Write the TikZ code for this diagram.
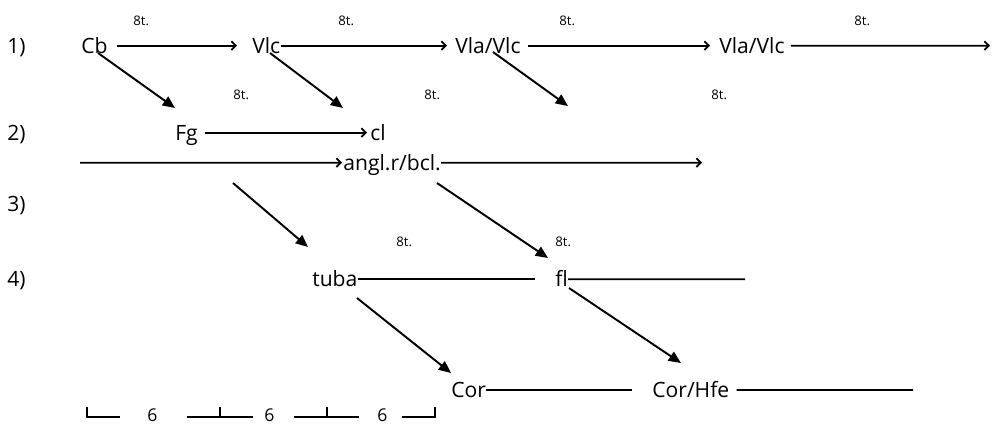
\documentclass[tikz,border=0pt]{standalone}
\usepackage{fontspec}
\setmainfont{Open Sans}
\usetikzlibrary{arrows.meta}

\tikzset{
  instr/.style={inner sep=0pt, anchor=base west, font=\fontsize{12pt}{14pt}\selectfont, text height=8.3pt, text depth=0pt},
  oct/.style={inner sep=0pt, anchor=base west, font=\fontsize{7.5pt}{9pt}\selectfont},
  unit/.style={inner sep=0pt, anchor=base west, font=\fontsize{10pt}{12pt}\selectfont},
  tie/.style={line width=1pt},
  run/.style={tie, -{Straight Barb[length=2.5pt,width=5pt]}},
  lead/.style={line width=1.1pt, -{Triangle[length=7pt,width=6pt]}},
}

\begin{document}
\begin{tikzpicture}[x=0.02cm, y=-0.02cm]
  \useasboundingbox (0,0) rectangle (996,424);
  % row labels
  \node[instr] (one) at (7,53) {1)};
  \node[instr] (two) at (7,140) {2)};
  \node[instr] (three) at (7,211) {3)};
  \node[instr] (four) at (7,286.5) {4)};
  % instruments
  \node[instr] (Cb) at (81,53) {Cb};
  \node[instr] (Vlc) at (252,53) {Vlc};
  \node[instr] (VlaA) at (455,53) {Vla/Vlc};
  \node[instr] (VlaB) at (719,53) {Vla/Vlc};
  \node[instr] (Fg) at (175,140) {Fg};
  \node[instr] (cl) at (370,140) {cl};
  \node[instr] (angl) at (343,170) {angl.r/bcl.};
  \node[instr] (tuba) at (312,286.5) {tuba};
  \node[instr] (fl) at (555,286.5) {fl};
  \node[instr] (Cor) at (451,397.3) {Cor};
  \node[instr] (CorHfe) at (652,397.3) {Cor/Hfe};
  % octave marks
  \node[oct] (oA) at (133,25) {8t.};
  \node[oct] (oB) at (338,25) {8t.};
  \node[oct] (oC) at (559,25) {8t.};
  \node[oct] (oD) at (854,25) {8t.};
  \node[oct] (oE) at (233,99) {8t.};
  \node[oct] (oF) at (424,99) {8t.};
  \node[oct] (oG) at (711,99) {8t.};
  \node[oct] (oH) at (396,246) {8t.};
  \node[oct] (oI) at (555,246) {8t.};
  % free ends
  \coordinate (endA) at (990,45.7);
  \coordinate (angStart) at (80,162.7);
  \coordinate (angEnd) at (702,162.7);
  \coordinate (flEnd) at (745,279.2);
  \coordinate (hfeEnd) at (913,390);
  \coordinate (vlaTip) at (568,106);
  \coordinate (s3) at (233,183);
  % horizontal runs
  \draw[run, shorten <=0.18cm, shorten >=0.30cm] (Cb) -- (Vlc);
  \draw[run, shorten >=0.16cm] (Vlc) -- (VlaA);
  \draw[run, shorten <=0.14cm, shorten >=0.18cm] (VlaA) -- (VlaB);
  \draw[run, shorten <=0.12cm] (VlaB) -- (endA);
  \draw[run, shorten <=0.14cm, shorten >=0.06cm] (Fg) -- (cl);
  \draw[run, shorten >=0.02cm] (angStart) -- (angl);
  \draw[run] (angl) -- (angEnd);
  \draw[tie, shorten >=0.4cm] (tuba) -- (fl);
  \draw[tie] (fl) -- (flEnd);
  \draw[tie, shorten >=0.4cm] (Cor) -- (CorHfe);
  \draw[tie, shorten <=0.14cm] (CorHfe) -- (hfeEnd);
  % entries
  \draw[lead] ([shift={(17,0)}]Cb.base west) -- ([shift={(0,-32)}]Fg.base west);
  \draw[lead] ([shift={(18,0)}]Vlc.base west) -- ([shift={(-27,-32)}]cl.base west);
  \draw[lead] ([shift={(38,-1)}]VlaA.base west) -- (vlaTip);
  \draw[lead] (s3) -- ([shift={(-4,-39.5)}]tuba.base west);
  \draw[lead] ([shift={(94,13)}]angl.base west) -- ([shift={(-7,-28.5)}]fl.base west);
  \draw[lead] ([shift={(45,11.5)}]tuba.base west) -- ([shift={(0,-24.3)}]Cor.base west);
  \draw[lead] ([shift={(14,1.5)}]fl.base west) -- ([shift={(29,-34.3)}]CorHfe.base west);
  % time scale
  \draw[tie] (87,407) |- (120,417);
  \draw[tie] (187,417) -- (253,417) (220,417) -- (220,407);
  \draw[tie] (294,417) -- (359,417) (327,417) -- (327,407);
  \draw[tie] (402,417) -| (435,407);
  \node[unit] (sixA) at (147,421) {6};
  \node[unit] (sixB) at (264,421) {6};
  \node[unit] (sixC) at (377,421) {6};
\end{tikzpicture}
\end{document}
